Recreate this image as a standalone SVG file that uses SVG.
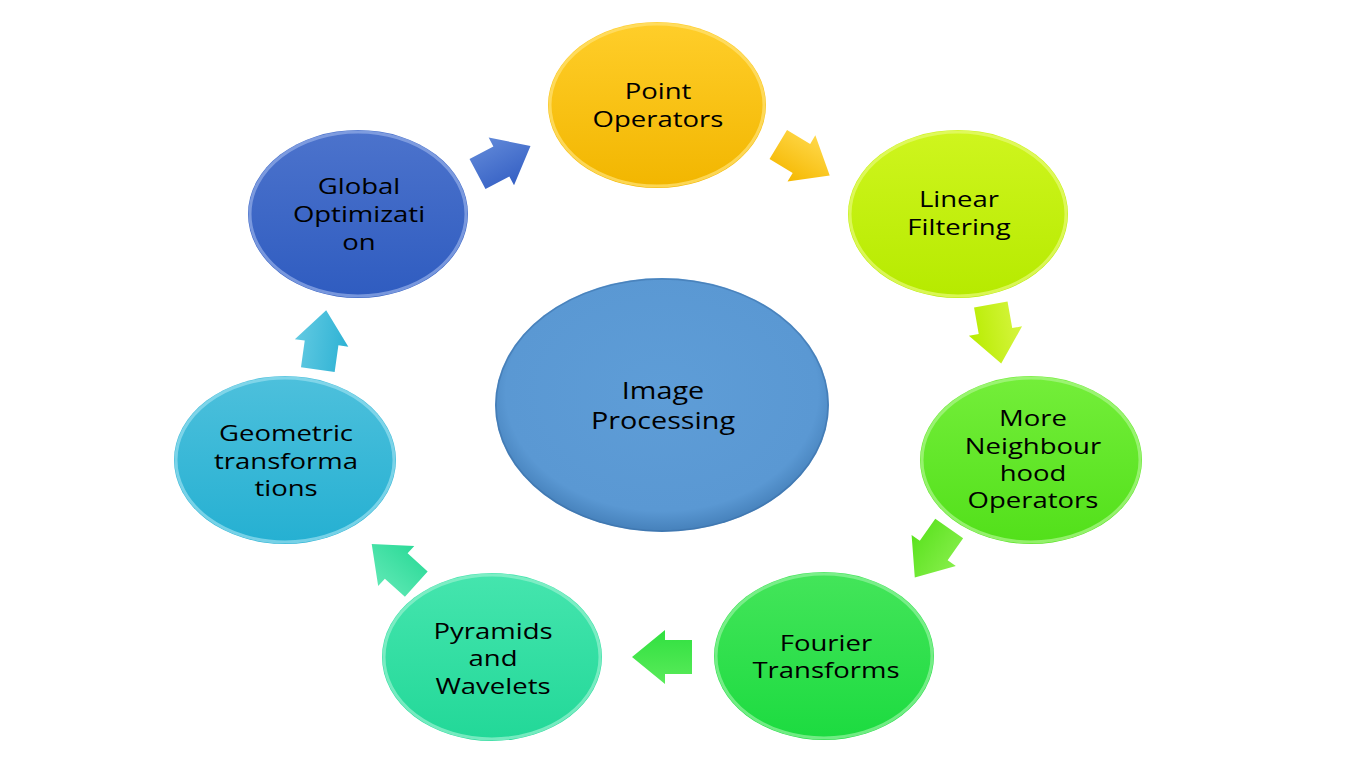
<svg xmlns="http://www.w3.org/2000/svg" width="1365" height="770" viewBox="0 0 1365 770">
<style>
  text { font-family: "Open Sans", "Liberation Sans", sans-serif; font-size: 22px; font-weight: 500; fill: #000; text-anchor: middle; }
  .big { font-size: 23px; }
  .rim { fill: none; stroke-width: 3; stroke-opacity: 0.75; }
</style>
<defs>
  <linearGradient id="gYel" x1="0" y1="0" x2="0" y2="1"><stop offset="0" stop-color="#FFCE2A"/><stop offset="1" stop-color="#F2B600"/></linearGradient>
  <linearGradient id="gLim" x1="0" y1="0" x2="0" y2="1"><stop offset="0" stop-color="#CFF51E"/><stop offset="1" stop-color="#B6EA00"/></linearGradient>
  <linearGradient id="gGrn1" x1="0" y1="0" x2="0" y2="1"><stop offset="0" stop-color="#74EE3A"/><stop offset="1" stop-color="#52E01A"/></linearGradient>
  <linearGradient id="gGrn2" x1="0" y1="0" x2="0" y2="1"><stop offset="0" stop-color="#44E55A"/><stop offset="1" stop-color="#1CDB40"/></linearGradient>
  <linearGradient id="gTeal" x1="0" y1="0" x2="0" y2="1"><stop offset="0" stop-color="#45E5AE"/><stop offset="1" stop-color="#22D898"/></linearGradient>
  <linearGradient id="gCyan" x1="0" y1="0" x2="0" y2="1"><stop offset="0" stop-color="#4DC0DC"/><stop offset="1" stop-color="#25B0D2"/></linearGradient>
  <linearGradient id="gBlue" x1="0" y1="0" x2="0" y2="1"><stop offset="0" stop-color="#4C73CC"/><stop offset="1" stop-color="#2F5CC0"/></linearGradient>
  <radialGradient id="gCenter" cx="0.5" cy="0.45" r="0.55"><stop offset="0" stop-color="#5E9DD7"/><stop offset="0.85" stop-color="#5A98D3"/><stop offset="1" stop-color="#4580BA"/></radialGradient>

  <linearGradient id="aYel" x1="0" y1="0" x2="0" y2="1"><stop offset="0" stop-color="#FFD84A"/><stop offset="1" stop-color="#F5B800"/></linearGradient>
  <linearGradient id="aLim" x1="0" y1="0" x2="0" y2="1"><stop offset="0" stop-color="#D6F540"/><stop offset="1" stop-color="#B8EC00"/></linearGradient>
  <linearGradient id="aGrn1" x1="0" y1="0" x2="0" y2="1"><stop offset="0" stop-color="#86EE4A"/><stop offset="1" stop-color="#5AE21E"/></linearGradient>
  <linearGradient id="aGrn2" x1="0" y1="0" x2="0" y2="1"><stop offset="0" stop-color="#5AEB5A"/><stop offset="1" stop-color="#30E040"/></linearGradient>
  <linearGradient id="aTeal" x1="0" y1="0" x2="0" y2="1"><stop offset="0" stop-color="#5EE8B4"/><stop offset="1" stop-color="#2CDA98"/></linearGradient>
  <linearGradient id="aCyan" x1="0" y1="0" x2="0" y2="1"><stop offset="0" stop-color="#62CAE2"/><stop offset="1" stop-color="#2EB2D4"/></linearGradient>
  <linearGradient id="aBlue" x1="0" y1="0" x2="0" y2="1"><stop offset="0" stop-color="#6088D8"/><stop offset="1" stop-color="#3560C4"/></linearGradient>

  <path id="arrow" d="M -30,-17 L -3,-17 L -3,-27 L 30,0 L -3,27 L -3,17 L -30,17 Z"/>
</defs>

<rect width="1365" height="770" fill="#FFFFFF"/>

<g id="connectors">
  <use href="#arrow" fill="url(#aBlue)" transform="translate(504,160) rotate(-28)"/>
  <use href="#arrow" fill="url(#aYel)" transform="translate(804,160) rotate(31)"/>
  <use href="#arrow" fill="url(#aLim)" transform="translate(996,334) rotate(80)"/>
  <use href="#arrow" fill="url(#aGrn1)" transform="translate(932,553) rotate(125)"/>
  <use href="#arrow" fill="url(#aGrn2)" transform="translate(662,657) rotate(180)"/>
  <use href="#arrow" fill="url(#aTeal)" transform="translate(394,564) rotate(-138)"/>
  <use href="#arrow" fill="url(#aCyan)" transform="translate(322,340) rotate(-82)"/>
</g>

<g id="center">
  <ellipse cx="662" cy="405" rx="167" ry="127" fill="url(#gCenter)"/>
  <ellipse cx="662" cy="405" rx="166" ry="126" fill="none" stroke="#3A6EA5" stroke-width="1.5" stroke-opacity="0.5"/>
  <text class="big" transform="translate(663,0) scale(1.25,1)" x="0" y="399">Image</text>
  <text class="big" transform="translate(663,0) scale(1.25,1)" x="0" y="429">Processing</text>
</g>

<g id="point-operators">
  <ellipse cx="657" cy="105" rx="109" ry="83" fill="url(#gYel)"/>
  <ellipse class="rim" cx="657" cy="105" rx="107" ry="81" stroke="#FFE070"/>
  <text transform="translate(658,0) scale(1.25,1)" x="0" y="99">Point</text>
  <text transform="translate(658,0) scale(1.25,1)" x="0" y="127">Operators</text>
</g>

<g id="linear-filtering">
  <ellipse cx="958" cy="214" rx="110" ry="84" fill="url(#gLim)"/>
  <ellipse class="rim" cx="958" cy="214" rx="108" ry="82" stroke="#E4FA70"/>
  <text transform="translate(959,0) scale(1.25,1)" x="0" y="207">Linear</text>
  <text transform="translate(959,0) scale(1.25,1)" x="0" y="235">Filtering</text>
</g>

<g id="neighbourhood-operators">
  <ellipse cx="1031" cy="460" rx="111" ry="84" fill="url(#gGrn1)"/>
  <ellipse class="rim" cx="1031" cy="460" rx="109" ry="82" stroke="#A8F585"/>
  <text transform="translate(1033,0) scale(1.25,1)" x="0" y="426">More</text>
  <text transform="translate(1033,0) scale(1.25,1)" x="0" y="454">Neighbour</text>
  <text transform="translate(1033,0) scale(1.25,1)" x="0" y="481">hood</text>
  <text transform="translate(1033,0) scale(1.25,1)" x="0" y="508">Operators</text>
</g>

<g id="fourier-transforms">
  <ellipse cx="824" cy="656" rx="110" ry="84" fill="url(#gGrn2)"/>
  <ellipse class="rim" cx="824" cy="656" rx="108" ry="82" stroke="#8CF29A"/>
  <text transform="translate(826,0) scale(1.25,1)" x="0" y="651">Fourier</text>
  <text transform="translate(826,0) scale(1.25,1)" x="0" y="678">Transforms</text>
</g>

<g id="pyramids-wavelets">
  <ellipse cx="492" cy="657" rx="110" ry="84" fill="url(#gTeal)"/>
  <ellipse class="rim" cx="492" cy="657" rx="108" ry="82" stroke="#90F0CC"/>
  <text transform="translate(493,0) scale(1.25,1)" x="0" y="639">Pyramids</text>
  <text transform="translate(493,0) scale(1.25,1)" x="0" y="666">and</text>
  <text transform="translate(493,0) scale(1.25,1)" x="0" y="694">Wavelets</text>
</g>

<g id="geometric-transformations">
  <ellipse cx="285" cy="460" rx="111" ry="84" fill="url(#gCyan)"/>
  <ellipse class="rim" cx="285" cy="460" rx="109" ry="82" stroke="#92DCEE"/>
  <text transform="translate(286,0) scale(1.25,1)" x="0" y="441">Geometric</text>
  <text transform="translate(286,0) scale(1.25,1)" x="0" y="469">transforma</text>
  <text transform="translate(286,0) scale(1.25,1)" x="0" y="496">tions</text>
</g>

<g id="global-optimization">
  <ellipse cx="358" cy="214" rx="110" ry="84" fill="url(#gBlue)"/>
  <ellipse class="rim" cx="358" cy="214" rx="108" ry="82" stroke="#8FA9E6"/>
  <text transform="translate(359,0) scale(1.25,1)" x="0" y="194">Global</text>
  <text transform="translate(359,0) scale(1.25,1)" x="0" y="222">Optimizati</text>
  <text transform="translate(359,0) scale(1.25,1)" x="0" y="250">on</text>
</g>
</svg>
